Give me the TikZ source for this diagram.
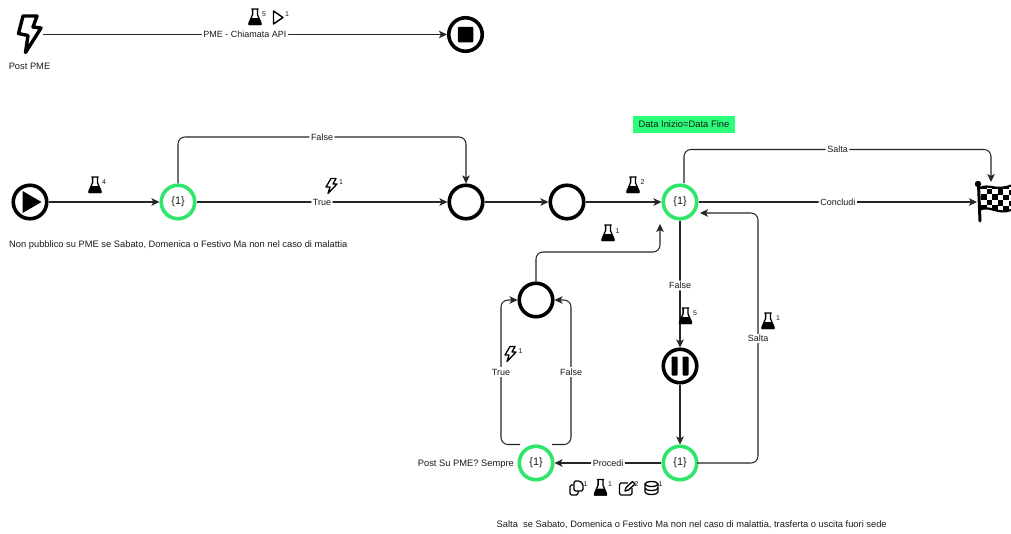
\documentclass[tikz,border=0pt]{standalone}
\usepackage{fontspec}
\setmainfont{Liberation Sans}
\usetikzlibrary{arrows.meta}
\definecolor{gwgreen}{HTML}{2EE66B}
\definecolor{tagGreen}{HTML}{2BFF7A}
\definecolor{inkc}{HTML}{1A1A1A}
\tikzset{
  ring/.style={circle,draw=black,line width=3.6pt,minimum size=33.5pt,inner sep=0pt,fill=white},
  gate/.style={circle,draw=gwgreen,line width=3.6pt,minimum size=33.5pt,inner sep=0pt,fill=white,font=\fontsize{10.8}{12}\selectfont,text=inkc},
  conn/.style={draw=black!85,line width=1.05pt,rounded corners=7pt},
  arr/.style={conn,-{Stealth[length=8pt,width=7.5pt,inset=2pt]}},
  elabel/.style={fill=white,inner sep=1.6pt,font=\fontsize{9}{10}\selectfont,text=inkc},
  txt/.style={inner sep=0pt,font=\fontsize{9.33}{11}\selectfont,text=inkc},
  cnt/.style={inner sep=0pt,font=\fontsize{7}{8}\selectfont,text=inkc},
  pics/flask/.style={code={
    \draw[black,line width=1.3pt,line join=round] (-3.6,-8) -- (3.6,-8) (-2.4,-8) -- (-2.4,-2.5) -- (-6,6) -- (-6,7.4) -- (6,7.4) -- (6,6) -- (2.4,-2.5) -- (2.4,-8);
    \fill[black] (-3.8,1) -- (3.8,1) -- (6.4,6.5) -- (6.4,8) -- (-6.4,8) -- (-6.4,6.5) -- cycle;
  }},
  pics/bolt/.style={code={
    \draw[black,line width=1.3pt,line join=round] (-1,-7.5) -- (-6,1) -- (-2,1) -- (-4,7.5) -- (5,-2) -- (1,-2) -- (4,-7.5) -- cycle;
  }},
}
\begin{document}
\begin{tikzpicture}[x=1pt,y=-1pt]
\useasboundingbox (0,0) rectangle (1011,533);
\fill[white] (0,0) rectangle (1011,533);

% trigger bolt
\coordinate (boltR) at (43,34.5);
\draw[black,line width=3.4pt,line join=round,fill=white] (23,16) -- (18.5,33.5) -- (28,35.5) -- (25.5,52.5) -- (41,28) -- (33,27) -- (37,16) -- cycle;
\node[txt,anchor=center] (postpme) at (29.5,66) {Post PME};

% stop
\node[ring] (stop) at (465.5,34.5) {};
\node[fill=black,minimum size=15.5pt,inner sep=0pt,rounded corners=1pt] (stopsq) at (465.5,34.5) {};

% row nodes
\node[ring] (start) at (30,202) {};
\fill[black] (start.center) ++(-7.5,-11) -- ++(0,22) -- ++(19,-11) -- cycle;
\node[gate] (g1) at (178,202) {\{1\}};
\node[ring] (c1) at (466,202) {};
\node[ring] (c2) at (567,202) {};
\node[gate] (g2) at (680,202) {\{1\}};
\node[ring] (c3) at (536,300) {};
\node[ring] (pause) at (680,366) {};
\fill[black,rounded corners=.8pt] (671.5,356.5) rectangle (677.5,375.5) (682.5,356.5) rectangle (688.5,375.5);
\node[gate] (g3) at (680,463) {\{1\}};
\node[gate] (g4) at (536,463) {\{1\}};

% finish flag
\coordinate (flagL) at (977,202);
\coordinate (flagT) at (991,182);
\begin{scope}
  \clip (981,188) .. controls (989,184) and (996,192) .. (1011,186) -- (1011,210) .. controls (998,215) and (990,205) .. (981,209) -- cycle;
  \foreach \i in {0,...,5}{\foreach \j in {0,...,5}{
    \pgfmathparse{int(mod(\i+\j,2))}
    \ifnum\pgfmathresult=0
      \fill[black] ({981+\i*5.5},{183+\j*5.5+0.2*\i}) rectangle ++(5.5,5.5);
    \fi}}
\end{scope}
\fill[black] (978,184) circle (3.2pt);
\draw[black,line width=3pt,line cap=round] (978.5,184) -- (980,221);
\draw[black,line width=2.2pt] (980,188) .. controls (989,183.5) and (996,191.5) .. (1011,185.5);
\draw[black,line width=2.2pt] (980,209.5) .. controls (990,205) and (998,215) .. (1011,210);

% connectors
\coordinate (sT) at (684,183);
\coordinate (backIn) at (700,213);
\coordinate (mergeIn) at (660,224);
\coordinate (g3R) at (697,463);
\coordinate (g4T) at (520,444.5);
\coordinate (g4F) at (552,444.5);
\coordinate (c3L) at (517.5,300);
\coordinate (c3R) at (554.5,300);

\draw[arr] (boltR) -- (stop.west) node[pos=.5,elabel] (l0) {PME - Chiamata API};
\draw[arr] (start) -- (g1);
\draw[arr] (g1) -- (c1) node[pos=.5,elabel] (l1) {True};
\draw[arr] (g1.north) -- (178,137) -- node[pos=.5,elabel] (l2) {False} (466,137) -- (c1.north);
\draw[arr] (c1) -- (c2);
\draw[arr] (c2) -- (g2);
\draw[arr] (g2) -- (flagL) node[pos=.5,elabel] (l3) {Concludi};
\draw[arr] (sT) -- (684,149.5) -- node[pos=.5,elabel] (l4) {Salta} (991,149.5) -- (flagT);
\draw[arr] (g2) -- (pause) node[pos=.5,elabel,yshift=-1.5pt] (l5) {False};
\draw[arr] (pause) -- (g3);
\draw[arr] (g3) -- (g4) node[pos=.5,elabel] (l6) {Procedi};
\draw[arr] (g3R) -- (758,463) -- (758,213) -- (backIn);
\node[elabel] (l7) at (758,338.5) {Salta};
\draw[arr] (g4T) -- (501,444.5) -- (501,300) -- (c3L);
\node[elabel] (l8) at (501,372) {True};
\draw[arr] (g4F) -- (571,444.5) -- (571,300) -- (c3R);
\node[elabel] (l9) at (571,372) {False};
\draw[arr] (c3.north) -- (536,252) -- (660,252) -- (mergeIn);

% texts
\node[txt,anchor=west] (t1) at (9,245) {Non pubblico su PME se Sabato, Domenica o Festivo Ma non nel caso di malattia};
\node[txt,anchor=east] (t2) at (514,464) {Post Su PME? Sempre};
\node[txt,anchor=west] (t3) at (496.5,525) {Salta\ \ se Sabato, Domenica o Festivo Ma non nel caso di malattia, trasferta o uscita fuori sede};
\node[fill=tagGreen,minimum width=102pt,minimum height=17pt,inner sep=0pt,font=\fontsize{9.4}{11}\selectfont,text=inkc] (tag) at (684,124.5) {Data Inizio=Data Fine};

% badges
\pic at (255,17) {flask}; \node[cnt] (n1) at (264,14.5) {5};
\draw[black,line width=1.4pt,line join=round] (273.5,11) -- (273.5,24) -- (283,17.5) -- cycle; \node[cnt] (n2) at (287,14.5) {1};
\pic at (95,185) {flask}; \node[cnt] (n3) at (104,182) {4};
\pic at (332,186) {bolt}; \node[cnt] (n4) at (341,182) {1};
\pic at (633,185) {flask}; \node[cnt] (n5) at (642.5,182) {2};
\pic at (608,233) {flask}; \node[cnt] (n6) at (617.5,231) {1};
\pic at (685.5,316) {flask}; \node[cnt] (n7) at (695,313) {5};
\pic at (768,321) {flask}; \node[cnt] (n8) at (778,318) {1};
\pic at (511,354) {bolt}; \node[cnt] (n9) at (520.5,351.5) {1};

% bottom badges
\draw[black,line width=1.3pt,rounded corners=1.5pt] (573.5,485) -- (570,485) -- (570,495) -- (578,495) -- (578,491);
\draw[black,line width=1.3pt,rounded corners=1.5pt] (574,481) -- (580,481) -- (583,484) -- (583,491) -- (574,491) -- cycle;
\node[cnt] (n10) at (585.5,484) {1};
\pic at (600.5,487.5) {flask}; \node[cnt] (n11) at (610,484) {1};
\draw[black,line width=1.3pt,rounded corners=1.5pt] (628,483) -- (619.5,483) -- (619.5,495) -- (632,495) -- (632,488);
\draw[black,line width=1.3pt,line join=round] (625,491) -- (626,487.5) -- (632.5,481.5) -- (635,484) -- (628.5,490) -- cycle;
\node[cnt] (n12) at (636.5,484) {2};
\draw[black,line width=1.3pt] (645,484) -- (645,492) arc[start angle=180,delta angle=-180,x radius=6.5,y radius=2.5] -- (658,484);
\draw[black,line width=1.3pt] (651.5,484) ellipse (6.5 and 2.5);
\draw[black,line width=1.3pt] (645,488) arc[start angle=180,delta angle=-180,x radius=6.5,y radius=2.5];
\node[cnt] (n13) at (660.5,484) {1};
\end{tikzpicture}
\end{document}
